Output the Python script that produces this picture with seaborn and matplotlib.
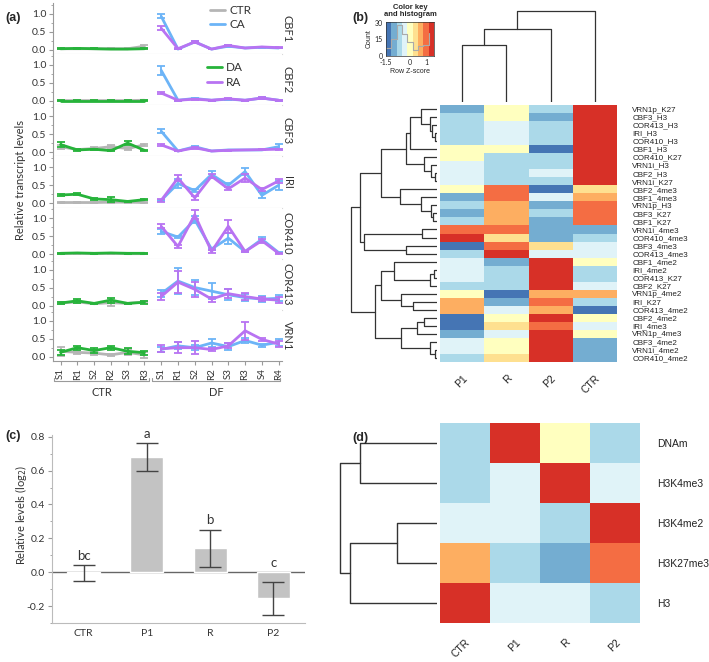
import numpy as np
import pandas as pd
import matplotlib
matplotlib.use("Agg")
import matplotlib.pyplot as plt
import seaborn as sns
from matplotlib.colors import ListedColormap
from matplotlib.ticker import MultipleLocator, FormatStrFormatter
from matplotlib.lines import Line2D

sns.set_theme(style="white")
plt.rcParams['font.family'] = ['Lato', 'DejaVu Sans']

# ---------------- Panel (a) data ----------------
genes = ["CBF1", "CBF2", "CBF3", "IRI", "COR410", "COR413", "VRN1"]
ctr_ticks = ["S1", "R1", "S2", "R2", "S3", "R3"]
df_ticks = ["S1", "R1", "S2", "R2", "S3", "R3", "S4", "R4"]

ctr_vals = {
    "CBF1": [0.03, 0.03, 0.03, 0.03, 0.03, 0.10],
    "CBF2": [0.01, 0.01, 0.01, 0.01, 0.01, 0.02],
    "CBF3": [0.15, 0.07, 0.10, 0.15, 0.10, 0.20],
    "IRI": [0.02, 0.02, 0.02, 0.03, 0.03, 0.02],
    "COR410": [0.02, 0.03, 0.02, 0.03, 0.02, 0.02],
    "COR413": [0.07, 0.10, 0.05, 0.08, 0.06, 0.10],
    "VRN1": [0.15, 0.12, 0.10, 0.05, 0.12, 0.05],
}
ctr_errs = {
    "CBF1": [0.01, 0.01, 0.01, 0.01, 0.01, 0.04],
    "CBF2": [0.005] * 6,
    "CBF3": [0.05, 0.02, 0.03, 0.06, 0.04, 0.03],
    "IRI": [0.01] * 6,
    "COR410": [0.01] * 6,
    "COR413": [0.02, 0.03, 0.02, 0.08, 0.02, 0.03],
    "VRN1": [0.12, 0.05, 0.05, 0.03, 0.08, 0.08],
}
da_vals = {
    "CBF1": [0.03, 0.04, 0.03, 0.02, 0.02, 0.03],
    "CBF2": [0.01, 0.01, 0.01, 0.01, 0.01, 0.01],
    "CBF3": [0.21, 0.06, 0.08, 0.04, 0.25, 0.05],
    "IRI": [0.23, 0.25, 0.12, 0.10, 0.05, 0.10],
    "COR410": [0.03, 0.04, 0.03, 0.04, 0.03, 0.03],
    "COR413": [0.07, 0.13, 0.06, 0.15, 0.06, 0.09],
    "VRN1": [0.12, 0.25, 0.17, 0.25, 0.15, 0.11],
}
da_errs = {
    "CBF1": [0.01] * 6,
    "CBF2": [0.005] * 6,
    "CBF3": [0.07, 0.02, 0.02, 0.02, 0.05, 0.02],
    "IRI": [0.04, 0.03, 0.02, 0.07, 0.01, 0.02],
    "COR410": [0.01] * 6,
    "COR413": [0.02, 0.06, 0.02, 0.07, 0.02, 0.04],
    "VRN1": [0.07, 0.06, 0.06, 0.06, 0.08, 0.05],
}
ca_vals = {
    "CBF1": [0.93, 0.02, 0.22, 0.02, 0.10, 0.05, 0.07, 0.05],
    "CBF2": [0.85, 0.02, 0.07, 0.02, 0.05, 0.02, 0.08, 0.02],
    "CBF3": [0.58, 0.03, 0.15, 0.03, 0.06, 0.06, 0.06, 0.15],
    "IRI": [0.08, 0.55, 0.35, 0.80, 0.50, 0.88, 0.22, 0.50],
    "COR410": [0.64, 0.48, 0.96, 0.15, 0.45, 0.08, 0.42, 0.05],
    "COR413": [0.33, 0.68, 0.50, 0.40, 0.30, 0.22, 0.18, 0.20],
    "VRN1": [0.20, 0.30, 0.25, 0.38, 0.28, 0.45, 0.32, 0.40],
}
ca_errs = {
    "CBF1": [0.06, 0.01, 0.03, 0.01, 0.02, 0.01, 0.01, 0.01],
    "CBF2": [0.13, 0.01, 0.02, 0.01, 0.01, 0.01, 0.02, 0.01],
    "CBF3": [0.06, 0.01, 0.03, 0.01, 0.01, 0.01, 0.01, 0.07],
    "IRI": [0.02, 0.12, 0.05, 0.10, 0.05, 0.10, 0.08, 0.12],
    "COR410": [0.06, 0.03, 0.10, 0.04, 0.15, 0.02, 0.07, 0.02],
    "COR413": [0.10, 0.35, 0.20, 0.22, 0.15, 0.10, 0.08, 0.08],
    "VRN1": [0.06, 0.10, 0.07, 0.10, 0.10, 0.06, 0.04, 0.10],
}
ra_vals = {
    "CBF1": [0.60, 0.03, 0.22, 0.02, 0.12, 0.05, 0.08, 0.06],
    "CBF2": [0.22, 0.02, 0.05, 0.02, 0.06, 0.02, 0.08, 0.02],
    "CBF3": [0.20, 0.03, 0.12, 0.03, 0.05, 0.06, 0.07, 0.08],
    "IRI": [0.08, 0.70, 0.15, 0.75, 0.40, 0.70, 0.38, 0.62],
    "COR410": [0.78, 0.22, 1.10, 0.08, 0.78, 0.08, 0.38, 0.03],
    "COR413": [0.25, 0.65, 0.45, 0.18, 0.33, 0.25, 0.18, 0.15],
    "VRN1": [0.22, 0.25, 0.25, 0.20, 0.30, 0.72, 0.48, 0.35],
}
ra_errs = {
    "CBF1": [0.06, 0.01, 0.03, 0.01, 0.02, 0.01, 0.01, 0.01],
    "CBF2": [0.03, 0.01, 0.01, 0.01, 0.01, 0.01, 0.02, 0.01],
    "CBF3": [0.02, 0.01, 0.02, 0.01, 0.01, 0.01, 0.01, 0.02],
    "IRI": [0.05, 0.08, 0.06, 0.05, 0.04, 0.10, 0.04, 0.05],
    "COR410": [0.06, 0.03, 0.12, 0.03, 0.18, 0.02, 0.05, 0.02],
    "COR413": [0.10, 0.30, 0.20, 0.07, 0.13, 0.10, 0.06, 0.08],
    "VRN1": [0.10, 0.15, 0.18, 0.04, 0.07, 0.25, 0.04, 0.08],
}

# ---------------- Panel (b) data ----------------
b_cols = ["P1", "R", "P2", "CTR"]
b_rows = ["VRN1p_K27", "CBF3_H3", "COR413_H3", "IRI_H3", "COR410_H3", "CBF1_H3",
          "COR410_K27", "VRN1i_H3", "CBF2_H3", "VRN1i_K27", "CBF2_4me3", "CBF1_4me3",
          "VRN1p_H3", "CBF3_K27", "CBF1_K27", "VRN1i_4me3", "COR410_4me3", "CBF3_4me3",
          "COR413_4me3", "CBF1_4me2", "IRI_4me2", "COR413_K27", "CBF2_K27", "VRN1p_4me2",
          "IRI_K27", "COR413_4me2", "CBF2_4me2", "IRI_4me3", "VRN1p_4me3", "CBF3_4me2",
          "VRN1i_4me2", "COR410_4me2"]
b_P1 = [-1.0, -0.7, -0.7, -0.7, -0.7, 0.0, 0.0, -0.35, -0.35, -0.35, 0.0, -1.0, -0.7, -1.0,
        -0.7, 1.0, 1.3, -1.3, -0.7, -0.35, -0.35, -0.35, -0.7, 0.0, 0.7, 0.7, -1.3, -1.3,
        -1.0, -0.35, -0.35, -0.7]
b_R = [0.0, 0.0, -0.35, -0.35, -0.35, 0.0, -0.7, -0.7, -0.7, -0.7, 1.0, 1.0, 0.7, 0.7,
       0.7, 1.0, 0.35, 1.0, 1.3, -1.0, -0.7, -0.7, -0.7, -1.3, -1.0, -0.35, 0.0, 0.35,
       -0.35, 0.0, 0.0, 0.35]
b_P2 = [-0.7, -1.0, -0.7, -0.7, -0.7, -1.3, -0.7, -0.7, -0.35, -0.7, -1.3, -0.35, -1.0,
        -0.7, -1.0, -1.0, -1.0, 0.35, -0.35, 1.3, 1.3, 1.3, 1.3, 0.7, 1.0, 0.7, 1.3, 1.0,
        1.3, 1.3, 1.3, 1.3]
b_CTR = [1.3, 1.3, 1.3, 1.3, 1.3, 1.3, 1.3, 1.3, 1.3, 1.3, 0.35, 0.7, 1.0, 1.0, 1.0, -1.0,
         -0.7, -0.35, -0.35, 0.0, -0.7, -0.7, -0.35, 0.7, -0.7, -1.3, 0.0, -0.35, 0.0,
         -1.0, -1.0, -1.0]
# row dendrogram (left, right, merge height)
b_row_tree = (
    (((((0, (1, (2, (3, 4, 7), 14), 22), 47), 5, 82), (6, (7, (8, 9, 7), 17), 40), 92),
      (10, (11, (12, (13, 14, 12), 19), 47), 112), 169),
     ((15, 16, 44), (17, 18, 92), 220), 232),
    ((((19, ((20, 21, 10), 22, 22), 129), (23, (24, 25, 72), 107), 169),
      (((26, 27, 40), 28, 60), (29, (30, 31, 7), 22), 107), 187)),
    257)
b_col_tree = (((0, 1, 57), 2, 73), 3, 91)

# ---------------- Panel (c) data ----------------
c_cats = ["CTR", "P1", "R", "P2"]
c_vals = [-0.005, 0.68, 0.14, -0.155]
c_errs = [0.045, 0.083, 0.11, 0.10]
c_letters = ["bc", "a", "b", "c"]

# ---------------- Panel (d) data ----------------
d_cols = ["CTR", "P1", "R", "P2"]
d_rows = ["DNAm", "H3K4me3", "H3K4me2", "H3K27me3", "H3"]
d_vals = [[-0.7, 1.3, 0.0, -0.7],
          [-0.7, -0.35, 1.3, -0.35],
          [-0.35, -0.35, -0.7, 1.3],
          [0.7, -0.7, -1.0, 1.0],
          [1.3, -0.35, -0.35, -0.7]]
d_row_tree = ((0, 1, 77), ((2, 3, 40), 4, 87), 97)

heat_colors = ["#4575b4", "#74add1", "#abd9e9", "#e0f3f8", "#ffffbf",
               "#fee090", "#fdae61", "#f46d43", "#d73027"]
cmap = ListedColormap(heat_colors)

# ---------------- figure ----------------
W, H = 709, 662
fig = plt.figure(figsize=(W / 100, H / 100), dpi=100)


def fax(x0, y0, x1, y1):
    return fig.add_axes([x0 / W, 1 - y1 / H, (x1 - x0) / W, (y1 - y0) / H])


def dendro(node, pos):
    if not isinstance(node, tuple):
        return pos[node], 0.0, []
    l, r, h = node
    pl, hl, sl = dendro(l, pos)
    pr, hr, sr = dendro(r, pos)
    return (pl + pr) / 2, h, sl + sr + [((hl, h, h, hr), (pl, pl, pr, pr))]


SPINE = "#9a9a9a"
TXT = "#333333"
col_ctr, col_ca, col_da, col_ra = "#b5b5b5", "#6cb4f7", "#26b33a", "#b873f2"

# ---------- Panel (a) ----------
a_top, a_bot = 3, 361
ph = (a_bot - a_top) / len(genes)
xc = np.arange(len(ctr_ticks))
xd = np.arange(len(ctr_ticks), len(ctr_ticks) + len(df_ticks))
axes_a = []
for gi, g in enumerate(genes):
    ax = fax(53, a_top + gi * ph, 282, a_top + (gi + 1) * ph)
    axes_a.append(ax)
    for xs, vals, errs, col in [(xc, ctr_vals[g], ctr_errs[g], col_ctr),
                                (xc, da_vals[g], da_errs[g], col_da),
                                (xd, ca_vals[g], ca_errs[g], col_ca),
                                (xd, ra_vals[g], ra_errs[g], col_ra)]:
        sns.lineplot(x=xs, y=vals, color=col, lw=2.0, ax=ax, legend=False)
        ax.errorbar(xs, vals, yerr=errs, fmt='none', ecolor=col, elinewidth=1.3,
                    capsize=2.8, capthick=1.3)
    ax.set_xlim(-0.45, 13.2)
    ax.set_ylim(-0.12, 1.3)
    ax.set_yticks([0, 0.5, 1.0])
    ax.yaxis.set_major_formatter(FormatStrFormatter("%.1f"))
    ax.yaxis.set_minor_locator(MultipleLocator(0.25))
    ax.tick_params(axis='y', which='major', length=3, width=0.8, color=SPINE,
                   labelsize=7.5, labelcolor=TXT, pad=2, left=True)
    ax.tick_params(axis='y', which='minor', length=1.8, width=0.6, color=SPINE, left=True)
    for s in ["top", "right"]:
        ax.spines[s].set_visible(False)
    ax.spines["left"].set_color(SPINE)
    ax.spines["left"].set_linewidth(0.8)
    ax.spines["bottom"].set_color("#d9d9d9")
    ax.spines["bottom"].set_linewidth(0.8)
    ax.set_xlabel("")
    ax.set_ylabel("")
    ax.text(1.022, 0.5, g, transform=ax.transAxes, rotation=-90, va='center',
            ha='center', fontsize=8, color=TXT)
    if gi < len(genes) - 1:
        ax.set_xticks([])
    else:
        ax.set_xticks(np.concatenate([xc, xd]))
        ax.set_xticklabels(ctr_ticks + df_ticks, rotation=90, fontsize=7, color=TXT)
        ax.tick_params(axis='x', length=3, width=0.8, color=SPINE, pad=2, bottom=True)
        ax.spines["bottom"].set_color(SPINE)
        tr = ax.get_xaxis_transform()
        for (x0, x1), lab in [((-0.42, 5.3), "CTR"), ((5.45, 13.1), "DF")]:
            ax.plot([x0, x0, x1, x1], [-0.34, -0.39, -0.39, -0.34], color=SPINE,
                    lw=0.8, transform=tr, clip_on=False)
            ax.text((x0 + x1) / 2, -0.5, lab, transform=tr, ha='center', va='top',
                    fontsize=8, color=TXT)

leg_kw = dict(frameon=False, fontsize=8.5, handlelength=1.3, handletextpad=0.35,
              labelspacing=0.3, borderaxespad=0, labelcolor=TXT)
axes_a[0].legend([Line2D([], [], color=col_ctr, lw=2), Line2D([], [], color=col_ca, lw=2)],
                 ["CTR", "CA"], loc="upper left", bbox_to_anchor=(0.665, 1.06), **leg_kw)
axes_a[1].legend([Line2D([], [], color=col_da, lw=2), Line2D([], [], color=col_ra, lw=2)],
                 ["DA", "RA"], loc="upper left", bbox_to_anchor=(0.65, 0.93), **leg_kw)
fig.text(21 / W, 1 - 180 / H, "Relative transcript levels", rotation=90, ha='center',
         va='center', fontsize=8, color=TXT)

# ---------- Panel (b) ----------
dfb = pd.DataFrame({"P1": b_P1, "R": b_R, "P2": b_P2, "CTR": b_CTR}, index=b_rows)[b_cols]
axb = fax(440, 105, 617, 362)
sns.heatmap(dfb, cmap=cmap, vmin=-1.5, vmax=1.5, cbar=False, ax=axb,
            xticklabels=True, yticklabels=True)
axb.yaxis.tick_right()
axb.set_yticklabels(b_rows, rotation=0, fontsize=5.8, family="Liberation Sans", color="#222")
axb.set_xticklabels(b_cols, rotation=45, ha='right', rotation_mode='anchor', fontsize=7.5,
                    family="Liberation Sans", color="#222")
axb.tick_params(axis='y', length=0, pad=11)
axb.tick_params(axis='x', length=0, pad=8)

axbr = fax(350, 105, 437, 362)
_, _, segs = dendro(b_row_tree, {i: i + 0.5 for i in range(len(b_rows))})
for xs, ys in segs:
    axbr.plot(xs, ys, color="#333", lw=0.9)
axbr.set_xlim(261, 0)
axbr.set_ylim(len(b_rows), 0)
axbr.axis('off')

axbc = fax(440, 5, 617, 102)
_, _, segs = dendro(b_col_tree, {i: i + 0.5 for i in range(len(b_cols))})
for hs, ps in segs:
    axbc.plot(ps, hs, color="#333", lw=0.9)
axbc.set_xlim(0, len(b_cols))
axbc.set_ylim(0, 97)
axbc.axis('off')

# color key with histogram
edges = np.linspace(-1.5, 1.5, len(heat_colors) + 1)
counts, _ = np.histogram(np.asarray(dfb.values).ravel(), bins=edges)
axk = fax(386, 22, 434, 56)
for i, c in enumerate(heat_colors):
    axk.axvspan(edges[i], edges[i + 1], color=c, lw=0)
axk.step(edges[:-1], counts, where='post', color="#aaaaaa", lw=0.8)
axk.set_xlim(-1.5, 1.5)
axk.set_ylim(0, counts.max() * 1.1)
axk.set_xticks([-1.5, -0.5, 0, 0.5, 1])
axk.set_xticklabels(["-1.5", "", "0", "", "1"])
axk.set_yticks([0, 15, 30])
axk.set_yticklabels(["0", "15", "30"])
axk.tick_params(labelsize=5, length=1.5, pad=1, width=0.5, colors="#222")
axk.set_xlabel("Row Z-score", fontsize=5, labelpad=1, family="Liberation Sans")
axk.set_ylabel("Count", fontsize=5, labelpad=1, family="Liberation Sans")
for s in axk.spines.values():
    s.set_linewidth(0.5)
    s.set_color("#333")
fig.text(410 / W, 1 - 11 / H, "Color key\nand histogram", ha='center', va='center',
         fontsize=5.5, fontweight='bold', family="Liberation Sans", linespacing=1.0)

# ---------- Panel (c) ----------
axc = fax(52, 435, 305, 623)
sns.barplot(x=c_cats, y=c_vals, color="#c3c3c3", width=0.52, saturation=1, ax=axc)
axc.errorbar(np.arange(len(c_cats)), c_vals, yerr=c_errs, fmt='none', ecolor="#444",
             elinewidth=1, capsize=8, capthick=1)
axc.axhline(0, color="#666", lw=1, zorder=0.5)
axc.set_xlim(-0.5, 3.5)
axc.set_ylim(-0.3, 0.81)
axc.set_yticks([-0.2, 0.0, 0.2, 0.4, 0.6, 0.8])
axc.yaxis.set_major_formatter(FormatStrFormatter("%.1f"))
axc.yaxis.set_minor_locator(MultipleLocator(0.1))
axc.tick_params(axis='y', which='major', length=3, width=0.8, color=SPINE, labelsize=7.5,
                labelcolor=TXT, left=True, pad=2)
axc.tick_params(axis='y', which='minor', length=1.8, width=0.6, color=SPINE, left=True)
axc.tick_params(axis='x', length=0, labelsize=7.5, labelcolor=TXT, pad=4)
for s in ["top", "right"]:
    axc.spines[s].set_visible(False)
for s in ["left", "bottom"]:
    axc.spines[s].set_color("#bbbbbb")
    axc.spines[s].set_linewidth(0.8)
for i, (v, e, lab) in enumerate(zip(c_vals, c_errs, c_letters)):
    axc.text(i, max(v + e, 0) + 0.02, lab, ha='center', va='bottom', fontsize=9.5,
             color=TXT, clip_on=False)
fig.text(21 / W, 1 - 515 / H, "Relative levels (log$_2$)", rotation=90, ha='center',
         va='center', fontsize=8, color=TXT)

# ---------- Panel (d) ----------
dfd = pd.DataFrame(d_vals, index=d_rows, columns=d_cols)
axd = fax(440, 423, 640, 623)
sns.heatmap(dfd, cmap=cmap, vmin=-1.5, vmax=1.5, cbar=False, ax=axd,
            xticklabels=True, yticklabels=True)
axd.yaxis.tick_right()
axd.set_yticklabels(d_rows, rotation=0, fontsize=7.5, family="Liberation Sans", color="#222")
axd.set_xticklabels(d_cols, rotation=45, ha='right', rotation_mode='anchor', fontsize=7.5,
                    family="Liberation Sans", color="#222")
axd.tick_params(axis='y', length=0, pad=12)
axd.tick_params(axis='x', length=0, pad=10)

axdr = fax(338, 423, 437, 623)
_, _, segs = dendro(d_row_tree, {i: i + 0.5 for i in range(len(d_rows))})
for xs, ys in segs:
    axdr.plot(xs, ys, color="#333", lw=1.0)
axdr.set_xlim(99, 0)
axdr.set_ylim(len(d_rows), 0)
axdr.axis('off')

# panel labels
for x, y, lab in [(5, 18, "(a)"), (352, 18, "(b)"), (5, 436, "(c)"), (352, 438, "(d)")]:
    fig.text(x / W, 1 - y / H, lab, fontsize=9, fontweight='bold', family="Liberation Sans",
             va='center', ha='left')

fig.savefig("out.png", dpi=100)
